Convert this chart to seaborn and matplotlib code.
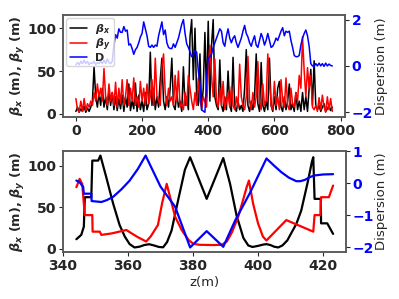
import numpy as np
import matplotlib
matplotlib.use("Agg")
import matplotlib.pyplot as plt
import seaborn as sns

# full lattice (top panel), sampled along z
z_ring = [0, 5, 10, 15, 20, 25, 30, 35, 40, 45, 50, 55, 60, 65, 70, 75, 80, 85, 90, 95,
          100, 105, 110, 115, 120, 125, 130, 135, 140, 145, 150, 155, 160, 165, 170, 175, 180, 185, 190, 195,
          200, 205, 210, 215, 220, 225, 230, 235, 240, 245, 250, 255, 260, 265, 270, 275, 280, 285, 290, 295,
          300, 305, 310, 315, 320, 325, 330, 335, 340, 345, 350, 355, 360, 365, 370, 375, 380, 385, 390, 395,
          400, 405, 410, 415, 420, 425, 430, 435, 440, 445, 450, 455, 460, 465, 470, 475, 480, 485, 490, 495,
          500, 505, 510, 515, 520, 525, 530, 535, 540, 545, 550, 555, 560, 565, 570, 575, 580, 585, 590, 595,
          600, 605, 610, 615, 620, 625, 630, 635, 640, 645, 650, 655, 660, 665, 670, 675, 680, 685, 690, 695,
          700, 705, 710, 715, 720, 725, 730, 735, 740, 745, 750, 755, 760, 765, 770, 775]
betax_ring = [3, 8, 2, 6, 3, 9, 2, 7, 3, 8, 15, 55, 20, 8, 25, 10, 30, 8, 20, 5,
              28, 10, 25, 5, 20, 4, 18, 6, 22, 3, 20, 8, 35, 4, 15, 6, 36, 3, 22, 5,
              15, 3, 25, 5, 12, 72, 10, 30, 5, 20, 8, 40, 65, 15, 5, 20, 8, 30, 65, 10,
              5, 25, 8, 15, 3, 55, 10, 20, 5, 90, 110, 40, 100, 20, 10, 70, 5, 30, 95, 20,
              108, 15, 80, 110, 20, 10, 5, 63, 10, 3, 20, 5, 50, 10, 3, 66, 8, 3, 15, 5,
              10, 3, 30, 75, 10, 3, 15, 5, 20, 70, 12, 3, 60, 10, 3, 15, 5, 65, 10, 3,
              20, 5, 30, 38, 8, 3, 20, 5, 15, 35, 5, 12, 3, 25, 5, 15, 3, 25, 5, 20,
              3, 30, 52, 10, 62, 10, 5, 10, 3, 8, 12, 3, 6, 10, 4, 8]
betay_ring = [18, 5, 2, 15, 3, 18, 4, 12, 8, 15, 10, 25, 15, 35, 20, 30, 15, 53, 20, 10,
              35, 15, 25, 10, 37, 8, 30, 12, 40, 10, 20, 40, 10, 30, 15, 42, 10, 20, 8, 38,
              15, 30, 10, 35, 12, 20, 40, 10, 65, 20, 15, 10, 55, 70, 25, 10, 30, 15, 20, 10,
              45, 15, 50, 8, 12, 5, 25, 10, 45, 30, 15, 5, 25, 10, 42, 15, 8, 20, 14, 8,
              55, 80, 45, 20, 64, 15, 8, 30, 10, 38, 5, 15, 25, 8, 32, 10, 5, 20, 8, 58,
              20, 10, 5, 20, 67, 15, 5, 25, 8, 20, 61, 15, 5, 35, 10, 15, 70, 40, 10, 5,
              38, 10, 20, 5, 40, 15, 8, 42, 10, 5, 30, 12, 8, 25, 15, 45, 30, 90, 50, 20,
              54, 30, 45, 8, 5, 10, 3, 19, 5, 22, 8, 2, 20, 5, 18, 3]
disp_ring = [0.05, 0.15, 0.05, 0.2, 0.1, 0.25, 0.1, 0.2, 0.05, 0.15,
             0.1, 0.2, 0.05, 0.15, 0.1, 0.2, 0.1, 0.25, 0.1, 0.3,
             0.15, 0.1, 0.2, 0.9, 1.35, 1.2, 1.6, 1.45, 1.45, 1.7,
             1.5, 1.55, 0.9, 0.95, 0.75, 0.5, 0.7, 0.8, 1.0, 1.25,
             1.4, 1.9, 1.6, 1.3, 0.85, 0.8, 0.9, 0.8, 0.9, 0.85,
             1.3, 1.6, 1.9, 1.35, 1.55, 1.0, 0.8, 0.75, 0.75, 0.95,
             0.8, 1.0, 1.2, 1.5, 1.8, 2.0, 1.4, 0.95, 0.8, 0.6,
             0.4, 0.5, 0.65, 0.6, -0.2, -0.8, -1.9, -1.95, -2.0, -0.6,
             0.35, 0.4, 0.5, 0.8, 1.0, 1.2, 1.4, 1.6, 1.5, 1.0,
             0.85, 1.3, 1.6, 1.2, 1.0, 1.2, 1.3, 1.0, 0.8, 1.0,
             1.2, 1.5, 1.75, 1.4, 1.25, 1.0, 0.85, 1.1, 1.3, 0.9,
             0.8, 1.1, 1.4, 1.2, 0.9, 1.1, 1.4, 1.1, 0.8, 0.85,
             1.0, 1.2, 1.1, 1.3, 1.5, 1.65, 1.3, 1.5, 1.45, 1.5,
             1.1, 0.8, 0.45, 0.4, 0.4, 0.45, 0.9, 1.2, 1.4, 1.55,
             1.3, 0.85, 0.1, 0.0, -0.02, 0.1, 0.0, 0.12, 0.0, 0.1,
             -0.02, 0.12, 0.0, 0.08, 0.02, 0.0]

# zoomed section (bottom panel)
z_bx = [344.1, 345.6, 346.4, 346.7, 348.7, 349.0, 350.8, 351.5, 353.3, 355.4, 357.4, 359.0,
        360.5, 362.0, 363.5, 365.0, 366.5, 368.0, 369.5, 370.8, 372.0, 373.4, 375.5, 377.5,
        379.1, 384.2, 389.3, 391.4, 393.4, 395.5, 397.0, 398.3, 400.0, 401.5, 402.6, 403.8,
        405.0, 406.2, 407.5, 409.0, 410.2, 411.8, 413.3, 415.4, 416.6, 417.0, 417.4, 419.3,
        419.4, 421.3, 423.1]
betax = [11.5, 16.7, 26.5, 62, 62, 106, 106, 112, 86, 54.5, 28.6, 14.7,
         5.6, 1.6, 2.5, 4.5, 5.5, 4.0, 2.2, 1.8, 8, 22, 60, 95,
         110, 60, 109, 78, 40, 13, 4, 2.2, 3.5, 5, 5.6, 4.5,
         2.5, 1.6, 4, 10, 18.6, 30, 46, 82, 105, 110, 60, 60,
         30.6, 30.6, 17.9]
z_by = [344.1, 345.1, 345.9, 346.7, 349.0, 349.1, 351.3, 351.8, 355.0, 359.5, 360.5, 363.0,
        365.6, 367.0, 369.2, 370.5, 371.9, 373.2, 374.5, 376.5, 378.6, 380.1, 382.0, 386.0,
        388.8, 390.4, 392.0, 393.9, 395.5, 396.5, 397.2, 398.5, 400.0, 401.5, 402.6, 408.7,
        417.0, 417.4, 419.2, 419.4, 421.8, 423.1]
betay = [74, 84, 78, 40.5, 40.5, 20.6, 20.6, 16.7, 18.5, 22.6, 20, 14,
         8.7, 15, 28.6, 55, 78, 58, 38.5, 22.6, 10.7, 6, 4.8, 4.5,
         4.8, 8.7, 20, 38.5, 60, 74, 82, 54, 30.6, 14.7, 10, 34.5,
         20.6, 40.5, 40.5, 62, 62, 76]
z_d = [344.1, 345.0, 346.2, 346.4, 348.7, 348.8, 351.8, 353.5, 355.4, 358.0, 360.5, 363.0,
       365.4, 370.0, 374.5, 379.1, 384.2, 389.3, 393.0, 397.5, 402.6, 405.0, 407.2, 409.5,
       411.8, 413.0, 414.4, 416.0, 417.4, 420.0, 423.1]
disp = [0.09, 0.05, -0.11, -0.32, -0.32, -0.55, -0.58, -0.52, -0.42, -0.18, 0.09, 0.45,
        0.87, -0.1, -0.73, -2.0, -1.49, -1.98, -1.15, -0.3, 0.78, 0.55, 0.35, 0.18,
        0.07, 0.07, 0.11, 0.2, 0.25, 0.28, 0.29]

sns.set_style("ticks")
plt.rcParams['font.family'] = ['DejaVu Sans']
plt.rcParams['font.weight'] = 'bold'
plt.rcParams['axes.labelweight'] = 'bold'
plt.rcParams['font.size'] = 10
plt.rcParams['axes.edgecolor'] = '0.35'
plt.rcParams['axes.linewidth'] = 1.1
for a in ('xtick', 'ytick'):
    plt.rcParams[a + '.major.size'] = 2.6
    plt.rcParams[a + '.major.pad'] = 2.2

fig = plt.figure(figsize=(3.99, 2.99), dpi=100)
ax1 = fig.add_axes([0.158, 0.609, 0.707, 0.341])
ax3 = fig.add_axes([0.158, 0.157, 0.709, 0.338])
ax2 = ax1.twinx()
ax4 = ax3.twinx()

ylab = r'$\boldsymbol{\beta_x}$ (m), $\boldsymbol{\beta_y}$ (m)'

# top: whole ring
sns.lineplot(x=z_ring, y=betax_ring, ax=ax1, color='k', lw=1.1, estimator=None, sort=False)
hx = ax1.lines[-1]
sns.lineplot(x=z_ring, y=betay_ring, ax=ax1, color='r', lw=1.1, estimator=None, sort=False)
hy = ax1.lines[-1]
sns.lineplot(x=z_ring, y=disp_ring, ax=ax2, color='b', lw=1.1, estimator=None, sort=False)
hd = ax2.lines[-1]
ax1.set_ylabel(ylab, fontsize=9.3, labelpad=0)
ax2.set_ylabel('Dispersion (m)', fontweight='normal', fontsize=9.5, labelpad=1)
ax2.set_yticks([-2, 0, 2])
ax2.tick_params(axis='y', labelcolor='b')

ax2.legend([hx, hy, hd], [r'$\boldsymbol{\beta_x}$', r'$\boldsymbol{\beta_y}$', 'D'],
           loc='upper left', fontsize=8, handlelength=1.6, labelspacing=0.05,
           borderpad=0.3, handletextpad=0.7, borderaxespad=0.3)

# bottom: zoom on one section
sns.lineplot(x=z_bx, y=betax, ax=ax3, color='k', lw=1.6, estimator=None, sort=False)
sns.lineplot(x=z_by, y=betay, ax=ax3, color='r', lw=1.6, estimator=None, sort=False)
sns.lineplot(x=z_d, y=disp, ax=ax4, color='b', lw=1.6, estimator=None, sort=False)
ax3.set_ylabel(ylab, fontsize=9.3, labelpad=0)
ax3.set_xlabel('z(m)', fontweight='normal', fontsize=9.5, labelpad=2.5)
ax3.set_xticks([340, 360, 380, 400, 420])
ax4.set_ylabel('Dispersion (m)', fontweight='normal', fontsize=9.5, labelpad=1)
ax4.set_yticks([-2, -1, 0, 1])
ax4.tick_params(axis='y', labelcolor='b')

fig.savefig('out.png', dpi=100)
